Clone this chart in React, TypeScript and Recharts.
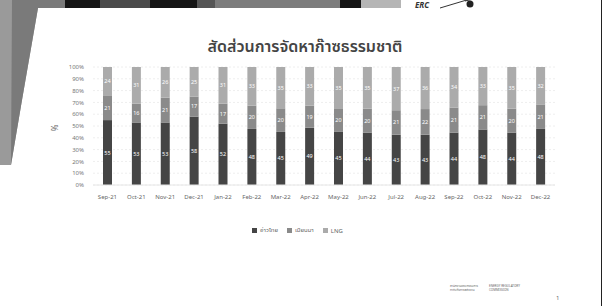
import React from 'react';
import { BarChart, Bar, XAxis, YAxis, CartesianGrid, LabelList } from 'recharts';

const months = ['Sep-21', 'Oct-21', 'Nov-21', 'Dec-21', 'Jan-22', 'Feb-22', 'Mar-22', 'Apr-22', 'May-22', 'Jun-22', 'Jul-22', 'Aug-22', 'Sep-22', 'Oct-22', 'Nov-22', 'Dec-22'];
const gulf = [55, 53, 53, 58, 52, 48, 45, 49, 45, 44, 43, 43, 44, 48, 44, 48];
const myanmar = [21, 16, 21, 17, 17, 20, 20, 19, 20, 20, 21, 22, 21, 21, 20, 21];
const lng = [24, 31, 26, 25, 31, 33, 35, 33, 35, 35, 37, 36, 34, 33, 35, 32];
const yTicks = [0, 0.1, 0.2, 0.3, 0.4, 0.5, 0.6, 0.7, 0.8, 0.9, 1];

const series = [
  { key: 'gulf', name: 'อ่าวไทย', color: '#454545' },
  { key: 'myanmar', name: 'เมียนมา', color: '#8a8a8a' },
  { key: 'lng', name: 'LNG', color: '#ababab' },
];

const data = months.map((m, i) => ({ month: m, gulf: gulf[i], myanmar: myanmar[i], lng: lng[i] }));

const font = '"Noto Sans", "Noto Sans Thai", sans-serif';

export default function App() {
  return (
    <div style={{ position: 'absolute', left: 0, top: 0, width: 607, height: 306, background: '#fff', overflow: 'hidden', fontFamily: font }}>
      {/* slide decorations */}
      <svg width={607} height={306} style={{ position: 'absolute', left: 0, top: 0 }}>
        <polygon points="0,0 38,0 38,8 22,100 11,165 0,165" fill="#9a9a9a" />
        <polygon points="12,0 38,0 38,8 22,100 11,165" fill="#7a7a7a" />
        <rect x={38} y={0} width={27} height={8} fill="#7a7a7a" />
        <rect x={65} y={0} width={35} height={8} fill="#151515" />
        <rect x={100} y={0} width={50} height={8} fill="#4a4a4a" />
        <rect x={150} y={0} width={47} height={8} fill="#151515" />
        <rect x={197} y={0} width={18} height={8} fill="#555" />
        <rect x={215} y={0} width={125} height={8} fill="#7c7c7c" />
        <rect x={340} y={0} width={21} height={8} fill="#151515" />
        <rect x={361} y={0} width={40} height={8} fill="#b5b5b5" />
        <text x={415} y={8} fontSize={8} fontWeight="bold" fontStyle="italic" fill="#333" fontFamily={font}>ERC</text>
        <path d="M 440 8 L 470 -1 M 465 1 L 490 -5" stroke="#333" strokeWidth={1} />
        <circle cx={470} cy={4} r={3.5} fill="#222" />
        <line x1={601.5} y1={0} x2={601.5} y2={306} stroke="#222" strokeWidth={1} />
        <text x={450} y={287} fontSize={3} fill="#666" fontFamily={font}>สำนักงานคณะกรรมการ</text>
        <text x={450} y={291} fontSize={3} fill="#666" fontFamily={font}>กำกับกิจการพลังงาน</text>
        <text x={489} y={287} fontSize={3} fill="#666" fontFamily={font}>ENERGY REGULATORY</text>
        <text x={489} y={291} fontSize={3} fill="#666" fontFamily={font}>COMMISSION</text>
        <text x={556} y={300} fontSize={6} fill="#666" fontFamily={font}>1</text>
        <text x={305} y={52} textAnchor="middle" fontSize={16} fontWeight={600} fill="#444" fontFamily={font}>สัดส่วนการจัดหาก๊าซธรรมชาติ</text>
        <text x={58} y={128} textAnchor="middle" fontSize={8} fill="#666" fontFamily={font} transform="rotate(-90 58 128)">%</text>
      </svg>

      <div style={{ position: 'absolute', left: 0, top: 0 }}>
        <BarChart width={607} height={306} data={data} stackOffset="expand" barSize={9}
          margin={{ top: 67, right: 52, bottom: 91, left: 40 }}>
          <CartesianGrid vertical={false} stroke="#eeeeee" strokeDasharray="2 2" />
          <XAxis dataKey="month" interval={0} tickLine={false} axisLine={{ stroke: '#e6e6e6' }} height={30}
            tick={{ fontSize: 6, fill: '#666', fontFamily: font }} tickMargin={4} />
          <YAxis width={53} ticks={yTicks} domain={[0, 1]} tickLine={false} axisLine={false} interval={0}
            tickFormatter={(v: number) => `${Math.round(v * 100)}%`}
            tick={{ fontSize: 6, fill: '#777', fontFamily: font }} tickMargin={3} />
          {series.map((s) => (
            <Bar key={s.key} dataKey={s.key} name={s.name} stackId="a" fill={s.color} isAnimationActive={false}>
              <LabelList dataKey={s.key} position="center" fill="#fff" fontSize={5.5} fontFamily={font} />
            </Bar>
          ))}
        </BarChart>
      </div>

      {/* legend */}
      <div style={{ position: 'absolute', left: 0, width: 607, top: 226, display: 'flex', justifyContent: 'center', gap: 9, fontSize: 6, color: '#666', marginLeft: -6 }}>
        {series.map((s) => (
          <div key={s.key} style={{ display: 'flex', alignItems: 'center', gap: 3 }}>
            <span style={{ display: 'inline-block', width: 5, height: 5, background: s.color }} />
            <span>{s.name}</span>
          </div>
        ))}
      </div>
    </div>
  );
}
